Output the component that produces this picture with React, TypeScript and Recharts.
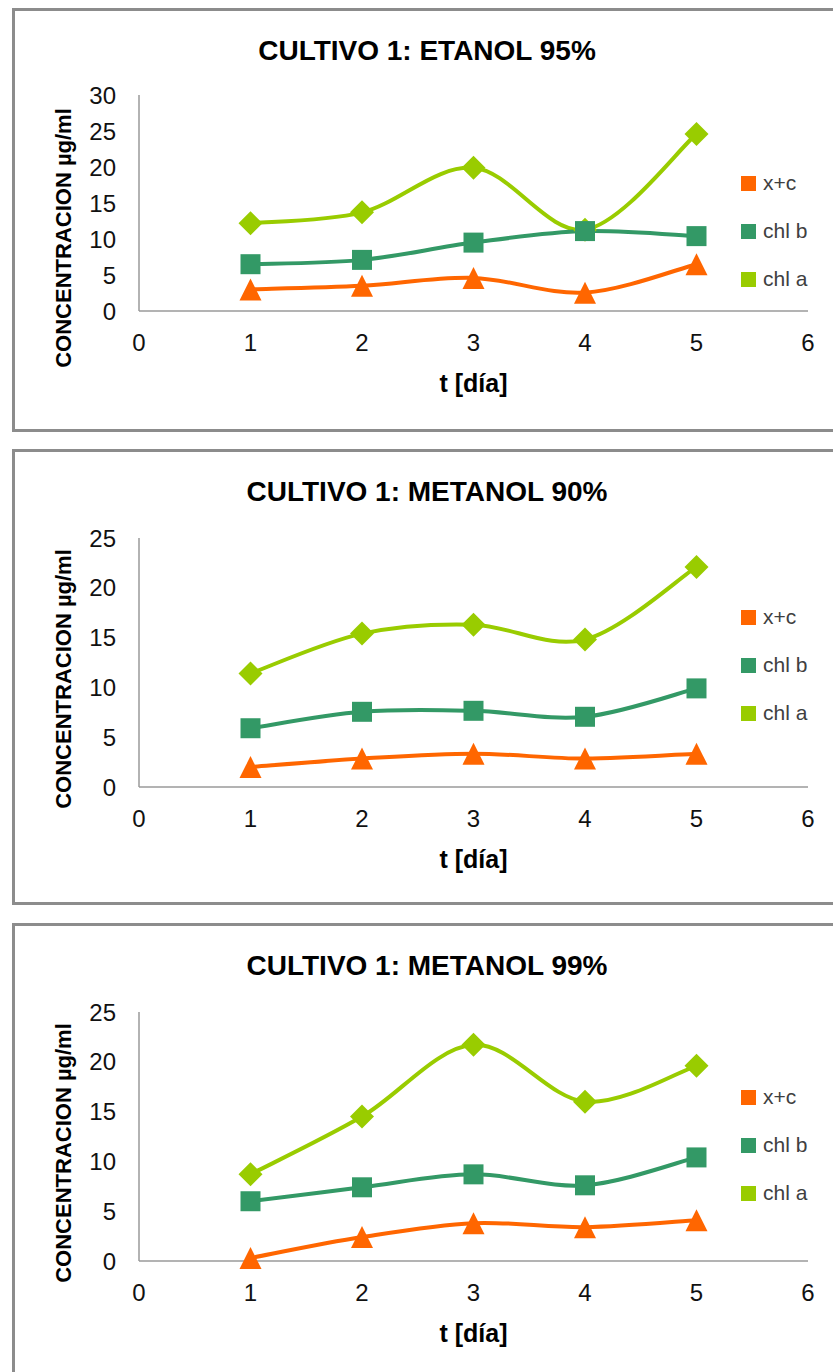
import { LineChart, Line, XAxis, YAxis, Legend, Label } from 'recharts';

const FONT = '"Liberation Sans", Arial, sans-serif';

// sampling days (x values) and axis ticks
const days = [1, 2, 3, 4, 5];
const xTicks = [0, 1, 2, 3, 4, 5, 6];
const ticks30 = [0, 5, 10, 15, 20, 25, 30];
const ticks25 = [0, 5, 10, 15, 20, 25];

const seriesNames = ['x+c', 'chl b', 'chl a'];

// CULTIVO 1: ETANOL 95%
const etanol95Xc = [3.0, 3.5, 4.6, 2.55, 6.5];
const etanol95ChlB = [6.5, 7.1, 9.5, 11.1, 10.4];
const etanol95ChlA = [12.2, 13.7, 19.9, 11.3, 24.6];

// CULTIVO 1: METANOL 90%
const metanol90Xc = [2.0, 2.85, 3.35, 2.85, 3.35];
const metanol90ChlB = [5.9, 7.55, 7.65, 7.05, 9.9];
const metanol90ChlA = [11.4, 15.4, 16.3, 14.8, 22.1];

// CULTIVO 1: METANOL 99%
const metanol99Xc = [0.3, 2.4, 3.8, 3.4, 4.1];
const metanol99ChlB = [6.0, 7.4, 8.7, 7.6, 10.4];
const metanol99ChlA = [8.7, 14.5, 21.7, 16.0, 19.6];

const COLORS: Record<string, string> = {
  'x+c': '#ff6600',
  'chl b': '#339966',
  'chl a': '#99cc00',
};

type Shape = 'triangle' | 'square' | 'diamond';

// Excel-style smoothed line: Catmull-Rom segments as cubic beziers
const smoothCurve = (context: any) => {
  let pts: number[][] = [];
  return {
    areaStart() {},
    areaEnd() {},
    lineStart() {
      pts = [];
    },
    point(x: number, y: number) {
      pts.push([+x, +y]);
    },
    lineEnd() {
      if (!pts.length) return;
      context.moveTo(pts[0][0], pts[0][1]);
      for (let i = 0; i < pts.length - 1; i++) {
        const p0 = pts[Math.max(i - 1, 0)];
        const p1 = pts[i];
        const p2 = pts[i + 1];
        const p3 = pts[Math.min(i + 2, pts.length - 1)];
        context.bezierCurveTo(
          p1[0] + (p2[0] - p0[0]) / 6,
          p1[1] + (p2[1] - p0[1]) / 6,
          p2[0] - (p3[0] - p1[0]) / 6,
          p2[1] - (p3[1] - p1[1]) / 6,
          p2[0],
          p2[1],
        );
      }
    },
  };
};

const markerDot = (shape: Shape, color: string) => (props: any) => {
  const { cx, cy, index } = props;
  if (cx == null || cy == null) return <g key={`m-${index}`} />;
  let d = '';
  if (shape === 'triangle') d = `M${cx},${cy - 11}L${cx + 11},${cy + 11}L${cx - 11},${cy + 11}Z`;
  else if (shape === 'square') d = `M${cx - 10},${cy - 10}h20v20h-20Z`;
  else d = `M${cx},${cy - 12}L${cx + 12},${cy}L${cx},${cy + 12}L${cx - 12},${cy}Z`;
  return <path key={`m-${index}`} d={d} fill={color} />;
};

const renderLegend = (props: any) => {
  const payload = [...(props.payload || [])].sort(
    (a: any, b: any) => seriesNames.indexOf(a.value) - seriesNames.indexOf(b.value),
  );
  return (
    <div>
      {payload.map((p: any) => (
        <div key={p.value} style={{ display: 'flex', alignItems: 'center', height: 48 }}>
          <span style={{ width: 15, height: 15, background: p.color, marginRight: 7, display: 'inline-block' }} />
          <span style={{ fontSize: 21, color: '#404040', fontFamily: FONT }}>{p.value}</span>
        </div>
      ))}
    </div>
  );
};

type PanelProps = {
  title: string;
  top: number;
  height: number;
  marginTop: number;
  marginBottom: number;
  yTicks: number[];
  xc: number[];
  chlB: number[];
  chlA: number[];
  legendTop: number;
};

function Panel({ title, top, height, marginTop, marginBottom, yTicks, xc, chlB, chlA, legendTop }: PanelProps) {
  const rows = days.map((day, i) => ({ day, xc: xc[i], chlB: chlB[i], chlA: chlA[i] }));
  const yMax = yTicks[yTicks.length - 1];
  return (
    <div style={{ position: 'absolute', left: 0, top, width: 833, height }}>
      <div
        style={{
          position: 'absolute',
          left: 12,
          top: 0,
          width: 840,
          height,
          border: '3px solid #8c8c8c',
          boxSizing: 'border-box',
        }}
      />
      <div
        style={{
          position: 'absolute',
          left: 0,
          top: 27,
          width: 854,
          textAlign: 'center',
          fontFamily: FONT,
          fontSize: 28,
          fontWeight: 'bold',
          lineHeight: '32px',
          color: '#000',
        }}
      >
        {title}
      </div>
      <div style={{ position: 'absolute', left: 0, top: 0 }}>
        <LineChart
          width={833}
          height={height}
          data={rows}
          margin={{ top: marginTop, right: 25, bottom: marginBottom, left: 79 }}
        >
          <XAxis
            type="number"
            dataKey="day"
            domain={[0, 6]}
            ticks={xTicks}
            interval={0}
            height={90}
            tickLine={false}
            tickSize={0}
            tickMargin={23}
            axisLine={{ stroke: '#9a9a9a', strokeWidth: 1.5 }}
            tick={{ fontSize: 24, fill: '#111', fontFamily: FONT }}
          >
            <Label
              content={(p: any) => {
                const vb = p.viewBox || {};
                const cx = vb.x + vb.width / 2;
                return (
                  <text
                    x={cx}
                    y={vb.y + 72}
                    textAnchor="middle"
                    dominantBaseline="central"
                    fontFamily={FONT}
                    fontSize={25}
                    fontWeight="bold"
                    fill="#000"
                  >
                    t [día]
                  </text>
                );
              }}
            />
          </XAxis>
          <YAxis
            type="number"
            domain={[0, yMax]}
            ticks={yTicks}
            interval={0}
            width={60}
            tickLine={false}
            tickSize={0}
            tickMargin={23}
            axisLine={{ stroke: '#9a9a9a', strokeWidth: 1.5 }}
            tick={{ fontSize: 24, fill: '#111', fontFamily: FONT }}
          >
            <Label
              content={() => (
                <text
                  x={63}
                  y={230}
                  transform="rotate(-90 63 230)"
                  textAnchor="middle"
                  dominantBaseline="central"
                  fontFamily={FONT}
                  fontSize={22}
                  fontWeight="bold"
                  fill="#000"
                >
                  CONCENTRACION µg/ml
                </text>
              )}
            />
          </YAxis>
          <Legend
            layout="vertical"
            align="center"
            verticalAlign="middle"
            content={renderLegend}
            wrapperStyle={{ left: 741, top: legendTop, width: 90 }}
          />
          <Line
            dataKey="chlA"
            name="chl a"
            stroke={COLORS['chl a']}
            strokeWidth={4}
            type={smoothCurve as any}
            dot={markerDot('diamond', COLORS['chl a'])}
            activeDot={false}
            isAnimationActive={false}
          />
          <Line
            dataKey="chlB"
            name="chl b"
            stroke={COLORS['chl b']}
            strokeWidth={4}
            type={smoothCurve as any}
            dot={markerDot('square', COLORS['chl b'])}
            activeDot={false}
            isAnimationActive={false}
          />
          <Line
            dataKey="xc"
            name="x+c"
            stroke={COLORS['x+c']}
            strokeWidth={4}
            type={smoothCurve as any}
            dot={markerDot('triangle', COLORS['x+c'])}
            activeDot={false}
            isAnimationActive={false}
          />
        </LineChart>
      </div>
    </div>
  );
}

export default function App() {
  return (
    <div
      style={{
        position: 'absolute',
        left: 0,
        top: 0,
        width: 833,
        height: 1372,
        overflow: 'hidden',
        background: '#fff',
      }}
    >
      <Panel
        title="CULTIVO 1: ETANOL 95%"
        top={8}
        height={424}
        marginTop={87}
        marginBottom={31}
        yTicks={ticks30}
        xc={etanol95Xc}
        chlB={etanol95ChlB}
        chlA={etanol95ChlA}
        legendTop={151}
      />
      <Panel
        title="CULTIVO 1: METANOL 90%"
        top={449}
        height={456}
        marginTop={89}
        marginBottom={28}
        yTicks={ticks25}
        xc={metanol90Xc}
        chlB={metanol90ChlB}
        chlA={metanol90ChlA}
        legendTop={144}
      />
      <Panel
        title="CULTIVO 1: METANOL 99%"
        top={923}
        height={456}
        marginTop={89}
        marginBottom={28}
        yTicks={ticks25}
        xc={metanol99Xc}
        chlB={metanol99ChlB}
        chlA={metanol99ChlA}
        legendTop={150}
      />
    </div>
  );
}
